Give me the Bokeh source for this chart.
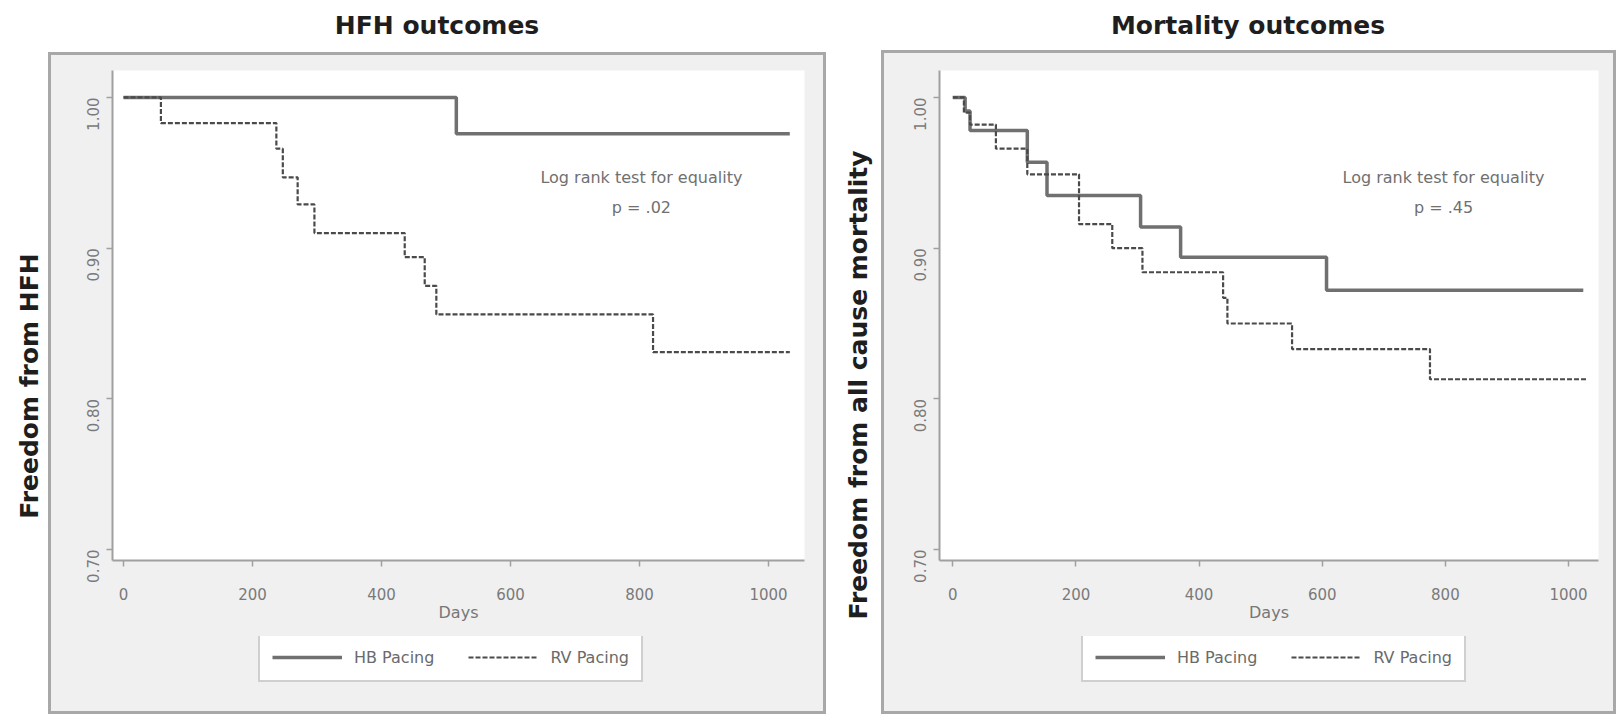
import math
from bokeh.plotting import figure
from bokeh.layouts import row, column
from bokeh.models import (Range1d, FixedTicker, NumeralTickFormatter, Legend,
                          LegendItem, Label, Div)
from bokeh.embed import file_html
from bokeh.resources import INLINE

# ---------------- data ----------------
titles = ["HFH outcomes", "Mortality outcomes"]
y_labels = ["Freedom from HFH", "Freedom from all cause mortality"]
x_label = "Days"
legend_labels = ["HB Pacing", "RV Pacing"]
logrank_text = "Log rank test for equality"
p_values = ["p = .02", "p = .45"]
x_ticks = [0, 200, 400, 600, 800, 1000]
y_ticks = [0.70, 0.80, 0.90, 1.00]

# HFH outcomes (Kaplan-Meier step curves)
hfh_hb_days = [0, 516, 1033]
hfh_hb_surv = [1.000, 0.976, 0.976]
hfh_rv_days = [0, 58, 237, 247, 270, 296, 436, 467, 485, 821, 1033]
hfh_rv_surv = [1.000, 0.983, 0.966, 0.947, 0.929, 0.910, 0.894, 0.875, 0.856, 0.831, 0.831]

# Mortality outcomes
mort_hb_days = [0, 20, 28, 121, 153, 305, 370, 607, 1024]
mort_hb_surv = [1.000, 0.991, 0.978, 0.957, 0.935, 0.914, 0.894, 0.872, 0.872]
mort_rv_days = [0, 18, 28, 70, 121, 205, 259, 308, 439, 446, 551, 775, 1030]
mort_rv_surv = [1.000, 0.990, 0.982, 0.966, 0.949, 0.916, 0.900, 0.884, 0.867, 0.850, 0.833, 0.813, 0.813]

FONT = "DejaVu Sans"
H_TITLE = 50
H_MAIN = 586
H_LEG = 78
FRAME_TOP = 20      # 70 px from page top
FRAME_BOTTOM = 510  # 560 px from page top

HB_STYLE = dict(line_color="#707070", line_width=3.5)
RV_STYLE = dict(line_color="#4a4a4a", line_width=2.2, line_dash="5 2")


def box_bg(by, bw, bh, top_border, bottom_border):
    tp = 3 if top_border else 0
    bp = 3 if bottom_border else 0
    return ("linear-gradient(#f0f0f0,#f0f0f0) 3px %dpx / %dpx %dpx no-repeat, "
            "linear-gradient(#a8a8a8,#a8a8a8) 0px %dpx / %dpx %dpx no-repeat, #ffffff"
            % (by + tp, bw - 6, bh - tp - bp, by, bw, bh))


def text_div(text, W, H, cx, cy, rotate):
    rot = " rotate(-90deg)" if rotate else ""
    html = ('<div style="position:relative;width:%dpx;height:%dpx;">'
            '<span style="position:absolute;left:%dpx;top:%dpx;'
            'transform:translate(-50%%,-50%%)%s;white-space:nowrap;'
            'font-family:\'DejaVu Sans\';font-weight:bold;font-size:25px;'
            'color:#1e1e1e;line-height:1;">%s</span></div>'
            % (W, H, cx, cy, rot, text))
    return Div(text=html, width=W, height=H, margin=0)


def make_panel(hb_d, hb_s, rv_d, rv_s, pval, W, frame_l, frame_r, xr, box_top,
               box_w, text_x, legend_x):
    p = figure(width=W, height=H_MAIN, output_backend="svg", toolbar_location=None,
               x_range=Range1d(*xr), y_range=Range1d(0.6927, 1.0179),
               min_border_left=frame_l, min_border_right=W - frame_r,
               min_border_top=FRAME_TOP, min_border_bottom=H_MAIN - FRAME_BOTTOM,
               border_fill_color=None, background_fill_color="white",
               outline_line_color=None,
               styles={"background": box_bg(box_top, box_w, H_MAIN - box_top,
                                            True, False)})
    p.xgrid.visible = False
    p.ygrid.visible = False

    for ax in (p.xaxis[0], p.yaxis[0]):
        ax.axis_line_color = "#a0a0a0"
        ax.axis_line_width = 2
        ax.major_tick_line_color = "#a0a0a0"
        ax.major_tick_line_width = 1.5
        ax.major_tick_out = 6
        ax.major_tick_in = 0
        ax.minor_tick_line_color = None
        ax.major_label_text_font = FONT
        ax.major_label_text_font_size = "15px"
        ax.major_label_text_color = "#7a7a7a"

    xa = p.xaxis[0]
    xa.ticker = FixedTicker(ticks=x_ticks)
    xa.major_label_standoff = 21
    xa.axis_label = x_label
    xa.axis_label_standoff = 0
    xa.axis_label_text_font = FONT
    xa.axis_label_text_font_size = "16px"
    xa.axis_label_text_font_style = "normal"
    xa.axis_label_text_color = "#777777"

    ya = p.yaxis[0]
    ya.ticker = FixedTicker(ticks=y_ticks)
    ya.formatter = NumeralTickFormatter(format="0.00")
    ya.major_label_orientation = math.pi / 2
    ya.major_label_standoff = 13

    p.step(hb_d, hb_s, mode="after", **HB_STYLE)
    p.step(rv_d, rv_s, mode="after", **RV_STYLE)

    for txt, yv in ((logrank_text, 0.947), (pval, 0.927)):
        p.add_layout(Label(x=text_x, y=yv, text=txt, text_align="center",
                           text_baseline="middle", text_font=FONT,
                           text_font_size="16px", text_color="#707070"))

    # legend strip (lower part of the grey box); its curves lie outside its view
    lf = figure(width=W, height=H_LEG, output_backend="svg", toolbar_location=None,
                x_range=Range1d(0, 1), y_range=Range1d(5, 6),
                x_axis_type=None, y_axis_type=None, min_border=0,
                border_fill_color=None, background_fill_color=None,
                outline_line_color=None,
                styles={"background": box_bg(0, box_w, H_LEG, False, True)})
    lf.xgrid.visible = False
    lf.ygrid.visible = False
    k_hb = lf.step(hb_d, hb_s, mode="after", **HB_STYLE)
    k_rv = lf.step(rv_d, rv_s, mode="after", **RV_STYLE)
    legend = Legend(items=[LegendItem(label=legend_labels[0], renderers=[k_hb]),
                           LegendItem(label=legend_labels[1], renderers=[k_rv])],
                    orientation="horizontal", location=(legend_x, 32),
                    border_line_color="#a0a0a0", border_line_width=2,
                    background_fill_color="white", background_fill_alpha=1.0,
                    label_text_font=FONT, label_text_font_size="16px",
                    label_text_color="#6a6a6a", glyph_width=70, glyph_height=22,
                    label_height=22, label_standoff=12, spacing=34, padding=12,
                    margin=0)
    lf.add_layout(legend, "center")
    return column(p, lf, spacing=0)


# top row: the two panel titles
t1 = text_div(titles[0], 826, H_TITLE, 437, 25, False)
t2 = text_div(titles[1], 797, H_TITLE, 422, 25, False)

# y-axis titles outside the grey boxes
y1 = text_div(y_labels[0], 48, H_MAIN + H_LEG, 29, 336, True)
y2 = text_div(y_labels[1], 55, H_MAIN + H_LEG, 32, 335, True)

c1 = make_panel(hfh_hb_days, hfh_hb_surv, hfh_rv_days, hfh_rv_surv, p_values[0],
                W=778, frame_l=64, frame_r=756, xr=(-17.05, 1055.8), box_top=2,
                box_w=778, text_x=803, legend_x=146)
c2 = make_panel(mort_hb_days, mort_hb_surv, mort_rv_days, mort_rv_surv, p_values[1],
                W=741, frame_l=58, frame_r=717, xr=(-21.6, 1048.7), box_top=0,
                box_w=735, text_x=797, legend_x=142)

layout = column(row(t1, t2, spacing=0), row(y1, c1, y2, c2, spacing=0), spacing=0)
open("out.html", "w").write(file_html(layout, INLINE))
